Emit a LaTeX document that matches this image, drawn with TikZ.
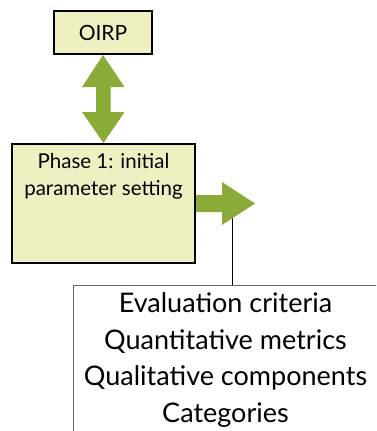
\documentclass[tikz,border=0pt]{standalone}
\usepackage{fontspec}
\setmainfont{Lato}
\usetikzlibrary{calc}
\definecolor{boxyellow}{HTML}{EFF0C2}
\definecolor{flowgreen}{HTML}{8BAB38}
\begin{document}
\begin{tikzpicture}[x=1pt,y=-1pt,line cap=round,line join=miter,
	phasebox/.style={draw=black, line width=2pt, fill=boxyellow, inner sep=0pt},
	flow/.style={fill=flowgreen},
	critbox/.style={draw=gray!80!black, line width=0.8pt, fill=white, align=center,
		font=\fontsize{27}{36.5}\selectfont, inner sep=0pt}]
	\clip (0,0) rectangle (376,431);
	
	\node[phasebox, minimum width=98, minimum height=43,
		font=\fontsize{21}{24}\selectfont] (oirp) at (103,32.5) {OIRP};
	\node[phasebox, minimum width=183, minimum height=119,
		label={[anchor=north, align=center, yshift=-7pt,
			font=\fontsize{20.5}{27}\selectfont]north:{Phase 1: initial\\parameter setting}}]
		(phase) at (103.5,203.5) {};
	\node[critbox, minimum width=305, minimum height=150] (crit) at (225.5,360)
		{Evaluation criteria\\Quantitative metrics\\Qualitative components\\Categories};
	
	% two way arrow
	\path[flow] (oirp.south) -- ++(21.5,32) -- ++(-14,0) -- ++(0,25) -- ++(14,0) --
		(phase.north) -- ++(-21.5,-31) -- ++(14,0) -- ++(0,-25) -- ++(-14,0) --cycle;
	
	% arrow out of phase 1
	\path[flow] ($(phase.east)+(0,-8.5)$) -- ++(26,0) -- ++(0,-13) --
		++(33,21.5) -- ++(-33,21.5) -- ++(0,-13) -- ++(-26,0) --cycle;
	\coordinate (hook) at ($(phase.east)+(36,15)$);
	\draw[line width=0.8pt] (hook) -- (hook |- crit.north);
\end{tikzpicture}
\end{document}
